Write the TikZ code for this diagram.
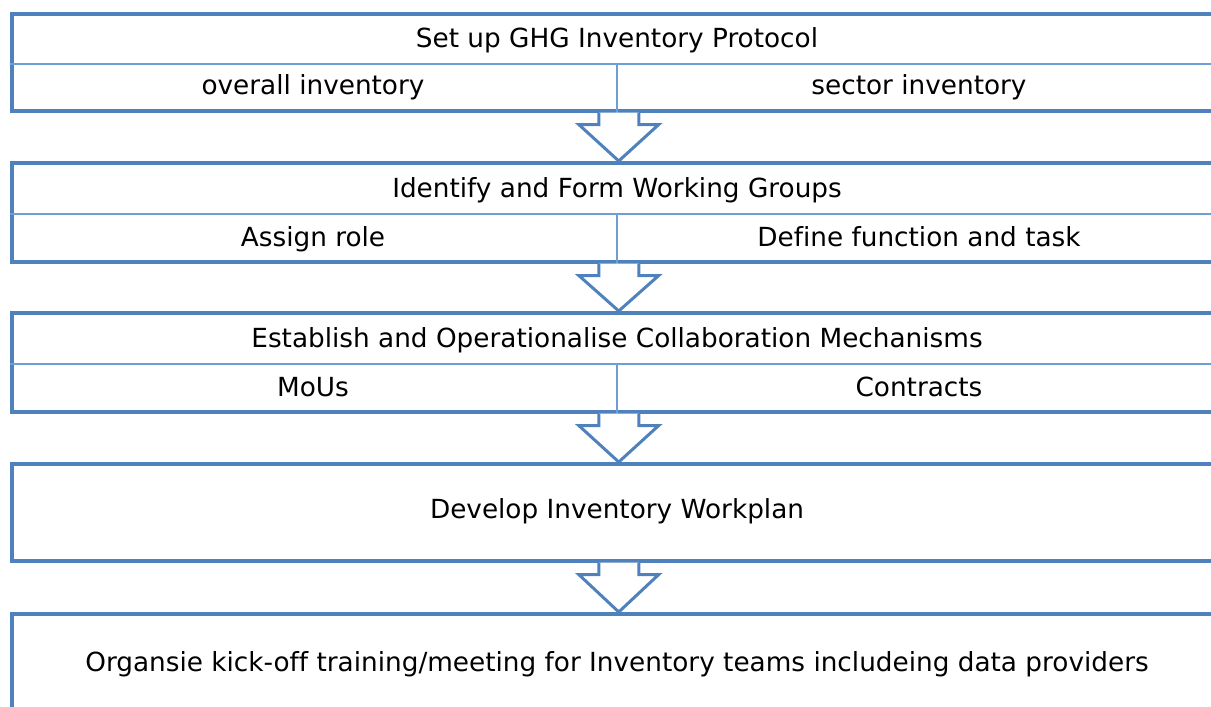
\documentclass[tikz,border=0pt]{standalone}
\usepackage{fontspec}
\setmainfont[Ligatures=NoCommon]{DejaVu Sans}
\usetikzlibrary{calc}
\definecolor{frame}{HTML}{4F81BD}
\definecolor{rule}{HTML}{6C9FD6}

\begin{document}
\begin{tikzpicture}[x=1pt,y=-1pt,
  stage/.style={draw=frame, line width=3.5pt, minimum width=1214pt,
                anchor=north west, inner sep=0pt, shape=rectangle},
  lbl/.style={font=\fontsize{26.3}{30}\selectfont, text=black, inner sep=0pt, anchor=base},
  divider/.style={draw=rule, line width=2.2pt},
  flow/.style={draw=frame, line width=3pt, fill=white, line join=miter}
]
\useasboundingbox (0,0) rectangle (1211,707);
\clip (0,0) rectangle (1211,707);

% stage frames (open to the right edge of the page)
\node[stage, minimum height=97pt]  (s1) at (10,12)  {};
\node[stage, minimum height=99pt]  (s2) at (10,161) {};
\node[stage, minimum height=99pt]  (s3) at (10,311) {};
\node[stage, minimum height=97pt]  (s4) at (10,462) {};
\node[stage, minimum height=160pt] (s5) at (10,612) {};

% split rows inside the first three stages
\coordinate (m1) at (617,64);
\coordinate (m2) at (617,214);
\coordinate (m3) at (617,364);
\foreach \k in {1,2,3}{
  \draw[divider] (s\k.west |- m\k) -- (s\k.east |- m\k);
  \draw[divider] (m\k) -- (m\k |- s\k.south);
}

% block arrows between the stages
\foreach \a/\b in {s1/s2, s2/s3, s3/s4, s4/s5}{
  \draw[flow]
    ($(\a.south)+(-20,0)$) -- ++(0,12) -- ++(-20,0) -- (\b.north)
    -- ($(\a.south)+(40,12)$) -- ++(-20,0) -- ++(0,-12);
}

% labels (placed by baseline)
\node[lbl] (t1)  at (617,47)  {Set up GHG Inventory Protocol};
\node[lbl] (t1a) at (313,94)  {overall inventory};
\node[lbl] (t1b) at (919,94)  {sector inventory};
\node[lbl] (t2)  at (617,197) {Identify and Form Working Groups};
\node[lbl] (t2a) at (313,246) {Assign role};
\node[lbl] (t2b) at (919,246) {Define function and task};
\node[lbl] (t3)  at (617,347) {Establish and Operationalise Collaboration Mechanisms};
\node[lbl] (t3a) at (313,396) {MoUs};
\node[lbl] (t3b) at (919,396) {Contracts};
\node[lbl] (t4)  at (617,518) {Develop Inventory Workplan};
\node[lbl] (t5)  at (617,671) {Organsie kick-off training/meeting for Inventory teams includeing data providers};
\end{tikzpicture}
\end{document}
